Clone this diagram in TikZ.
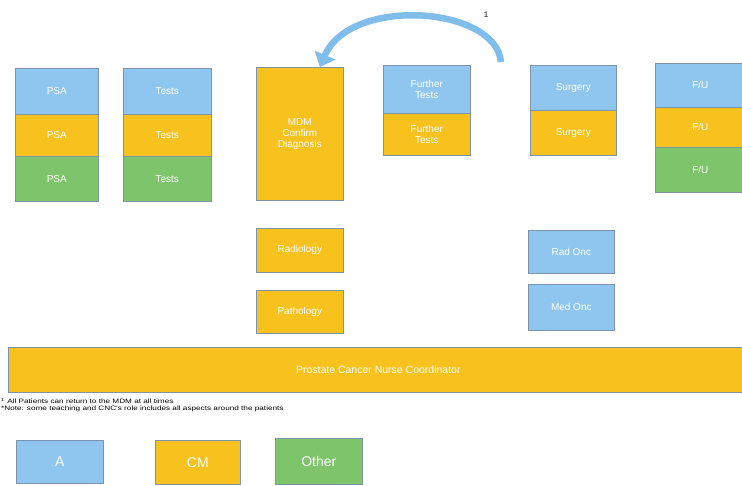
\documentclass[tikz,border=0pt]{standalone}
\usepackage{fontspec}
\setmainfont{Liberation Sans}
\usetikzlibrary{arrows.meta}
\definecolor{cellA}{HTML}{8EC6F0}
\definecolor{cellCM}{HTML}{F7C11E}
\definecolor{cellOther}{HTML}{7EC46A}
\definecolor{cellEdge}{HTML}{7D93AE}
\definecolor{arcBlue}{HTML}{7FBDEB}
\tikzset{
  cell/.style={draw=cellEdge, line width=0.6pt, text=white, inner sep=1pt,
    align=center, font=\fontsize{10}{11}\selectfont, anchor=north west},
  roleA/.style={cell, fill=cellA},
  roleCM/.style={cell, fill=cellCM},
  roleOther/.style={cell, fill=cellOther},
  arc/.style={draw=arcBlue, line width=6.5pt,
    -{Triangle[width=22pt,length=13pt]}},
  note/.style={font=\fontsize{6.3}{7.2}\selectfont, anchor=north west, inner sep=0pt, align=left}
}
\begin{document}
\begin{tikzpicture}[x=1pt,y=-1pt]
\useasboundingbox (0,0) rectangle (742,486);

% PSA column
\node[roleA, minimum width=83pt, minimum height=46pt] (psaA) at (15,68) {PSA};
\node[roleCM, minimum width=83pt, minimum height=42pt] (psaCM) at (15,114) {PSA};
\node[roleOther, minimum width=83pt, minimum height=45pt] (psaO) at (15,156) {PSA};

% Tests column
\node[roleA, minimum width=88pt, minimum height=46pt] (testA) at (123,68) {Tests};
\node[roleCM, minimum width=88pt, minimum height=42pt] (testCM) at (123,114) {Tests};
\node[roleOther, minimum width=88pt, minimum height=45pt] (testO) at (123,156) {Tests};

% MDM
\node[roleCM, minimum width=87pt, minimum height=133pt] (mdm) at (256,67) {MDM\\Confirm\\Diagnosis};

% Further tests
\node[roleA, minimum width=87pt, minimum height=48pt] (furtherA) at (383,65) {Further\\Tests};
\node[roleCM, minimum width=87pt, minimum height=42pt] (furtherCM) at (383,113) {Further\\Tests};

% Surgery
\node[roleA, minimum width=86pt, minimum height=45pt] (surgA) at (530,65) {Surgery};
\node[roleCM, minimum width=86pt, minimum height=45pt] (surgCM) at (530,110) {Surgery};

% Follow up
\node[roleA, minimum width=90pt, minimum height=44pt] (fuA) at (655,63) {F/U};
\node[roleCM, minimum width=90pt, minimum height=40pt] (fuCM) at (655,107) {F/U};
\node[roleOther, minimum width=90pt, minimum height=45pt] (fuO) at (655,147) {F/U};

% Diagnostic services
\node[roleCM, minimum width=87pt, minimum height=44pt] (rad) at (256,228) {Radiology};
\node[roleCM, minimum width=87pt, minimum height=43pt] (path) at (256,290) {Pathology};

% Oncology
\node[roleA, minimum width=86pt, minimum height=43pt] (radonc) at (528,230) {Rad Onc};
\node[roleA, minimum width=86pt, minimum height=46pt] (medonc) at (528,284) {Med Onc};

% Nurse coordinator bar
\node[roleCM, minimum width=740pt, minimum height=45pt, font=\fontsize{10.5}{12}\selectfont] (cnc) at (8,347) {Prostate Cancer Nurse Coordinator};

% Notes
\node[note] (notes) at (1,398) {\scalebox{1.3}[1]{\textsuperscript{1} All Patients can return to the MDM at all times}\\
\scalebox{1.3}[1]{*Note: some teaching and CNC's role includes all aspects around the patients}};

% Legend
\node[roleA, minimum width=87pt, minimum height=43pt, font=\fontsize{14}{15}\selectfont] (legA) at (16,440) {A};
\node[roleCM, minimum width=85pt, minimum height=44pt, font=\fontsize{14}{15}\selectfont] (legCM) at (155,440) {CM};
\node[roleOther, minimum width=87pt, minimum height=46pt, font=\fontsize{14}{15}\selectfont] (legO) at (275,438) {Other};

% Return-to-MDM arc
\coordinate (arcTail) at (501,62);
\draw[arc] (arcTail) .. controls (496,6) and (350,-4) .. (mdm.north -| 320,0);
\node[font=\bfseries\fontsize{8}{9}\selectfont, text=black!65] (arcMark) at (486,15) {1};
\end{tikzpicture}
\end{document}
